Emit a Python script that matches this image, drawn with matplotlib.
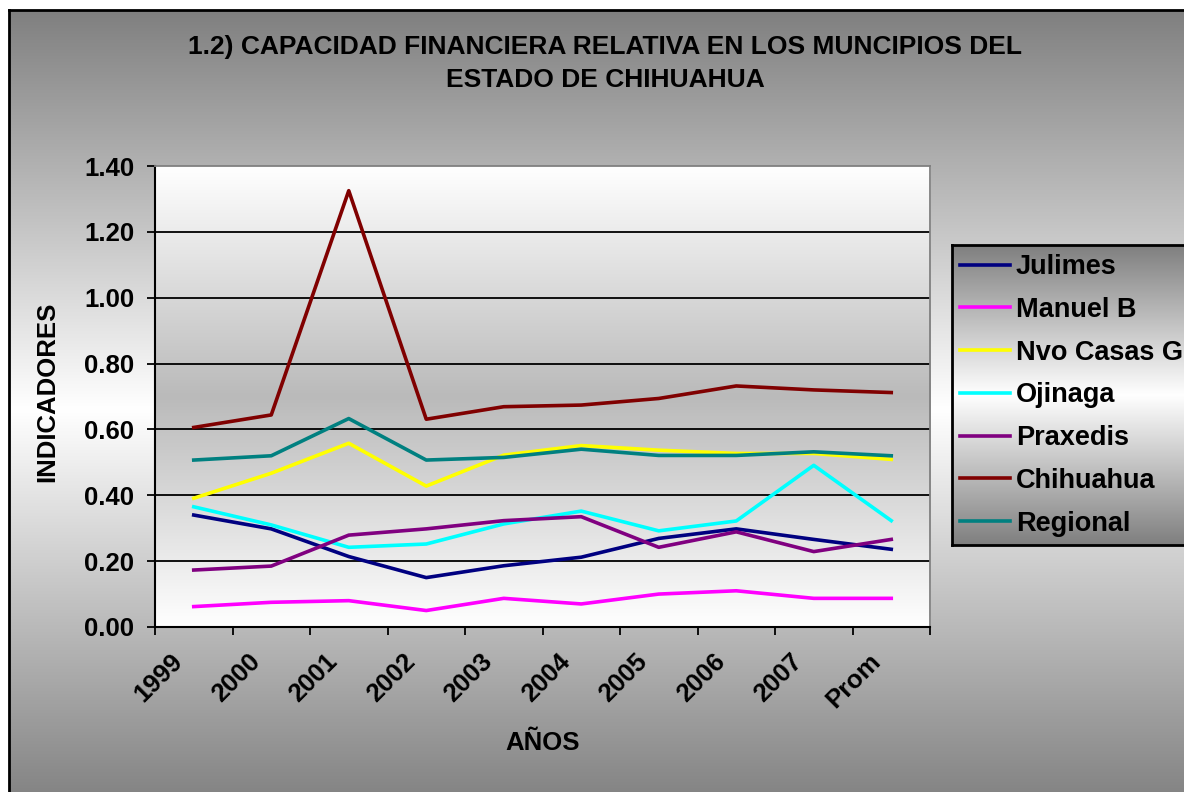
import numpy as np
import matplotlib
matplotlib.use("Agg")
import matplotlib.pyplot as plt
from matplotlib.colors import LinearSegmentedColormap

plt.rcParams['font.family'] = ['Liberation Sans', 'DejaVu Sans']
plt.rcParams['font.weight'] = 'bold'

# data
years = ["1999", "2000", "2001", "2002", "2003", "2004", "2005", "2006", "2007", "Prom"]
julimes = [0.340, 0.298, 0.214, 0.150, 0.186, 0.212, 0.269, 0.298, 0.266, 0.236]
manuel_b = [0.062, 0.075, 0.080, 0.050, 0.087, 0.070, 0.100, 0.110, 0.087, 0.087]
nvo_casas = [0.391, 0.467, 0.558, 0.428, 0.522, 0.551, 0.537, 0.527, 0.527, 0.509]
ojinaga = [0.365, 0.310, 0.242, 0.252, 0.313, 0.352, 0.292, 0.322, 0.491, 0.323]
praxedis = [0.173, 0.185, 0.279, 0.298, 0.323, 0.335, 0.242, 0.289, 0.229, 0.266]
chihuahua = [0.606, 0.644, 1.325, 0.631, 0.669, 0.674, 0.694, 0.732, 0.720, 0.712]
regional = [0.507, 0.520, 0.633, 0.507, 0.515, 0.540, 0.521, 0.521, 0.532, 0.520]

series = [
    ("Julimes", julimes, "#000080"),
    ("Manuel B", manuel_b, "#FF00FF"),
    ("Nvo Casas G", nvo_casas, "#FFFF00"),
    ("Ojinaga", ojinaga, "#00FFFF"),
    ("Praxedis", praxedis, "#800080"),
    ("Chihuahua", chihuahua, "#800000"),
    ("Regional", regional, "#008080"),
]

W, H = 1184, 792
fig = plt.figure(figsize=(W / 100, H / 100), dpi=100, facecolor="white")


def px(x0, y0, x1, y1):
    # pixel box (top-left origin) -> figure rect
    return [x0 / W, 1 - y1 / H, (x1 - x0) / W, (y1 - y0) / H]


gwg = LinearSegmentedColormap.from_list("gwg", ["#7f7f7f", "#ffffff", "#7f7f7f"])
wgw = LinearSegmentedColormap.from_list("wgw", ["#ffffff", "#bababa", "#ffffff"])
grad = np.linspace(0, 1, 256).reshape(-1, 1)

# chart area background
bg = fig.add_axes(px(9, 10, 1210, 810), zorder=0)
bg.imshow(grad, cmap=gwg, aspect="auto", extent=[0, 1, 0, 1])
bg.set_xticks([])
bg.set_yticks([])
for s in bg.spines.values():
    s.set_linewidth(2)
    s.set_color("black")

# plot area background
plot_box = px(155, 166, 930, 627)
pbg = fig.add_axes(plot_box, zorder=1)
pbg.imshow(grad, cmap=wgw, aspect="auto", extent=[0, 1, 0, 1])
pbg.axis("off")

ax = fig.add_axes(plot_box, zorder=2)
ax.patch.set_alpha(0)

x = np.arange(len(years)) + 0.5
for name, vals, col in series:
    ax.plot(x, vals, color=col, lw=2.6, label=name)

ax.set_xlim(0, len(years))
ax.set_ylim(0, 1.4)
yt = np.round(np.arange(0, 1.41, 0.2), 2)
ax.set_yticks(yt, ["%.2f" % v for v in yt])
ax.hlines(yt[1:-1], 0, len(years), color="black", lw=1.3, zorder=1)

# boundary tick marks, labels slightly left of each category centre
ax.set_xticks(np.arange(len(years) + 1), minor=True)
ax.set_xticks(x - 0.3, years)
ax.tick_params(axis="x", which="major", length=0, pad=16, labelsize=18.5)
ax.tick_params(axis="x", which="minor", length=6, width=1.3, direction="out")
ax.tick_params(axis="y", length=6, width=1.3, direction="out", pad=9, labelsize=18.5)
for lab in ax.get_xticklabels():
    lab.set_rotation(45)
    lab.set_ha("right")
    lab.set_va("top")
    lab.set_rotation_mode("anchor")

for side in ("left", "bottom"):
    ax.spines[side].set_color("black")
    ax.spines[side].set_linewidth(1.5)
for side in ("top", "right"):
    ax.spines[side].set_color("#808080")
    ax.spines[side].set_linewidth(1.3)

# legend box with its own gradient
lax = fig.add_axes(px(952, 245, 1210, 545), zorder=3)
lax.imshow(grad, cmap=gwg, aspect="auto", extent=[0, 1, 0, 1])
lax.set_xticks([])
lax.set_yticks([])
for s in lax.spines.values():
    s.set_linewidth(2)
    s.set_color("black")
handles, labels = ax.get_legend_handles_labels()
lax.legend(handles, labels, loc="upper left", bbox_to_anchor=(960 / W, 1 - 254 / H),
           bbox_transform=fig.transFigure, frameon=False, fontsize=19.5,
           handlelength=1.85, handletextpad=0.22, labelspacing=0.62, borderpad=0,
           borderaxespad=0)

fig.text(605 / W, 1 - 47 / H, "1.2) CAPACIDAD FINANCIERA RELATIVA EN LOS MUNCIPIOS DEL",
         ha="center", va="center", fontsize=19, weight="bold")
fig.text(605 / W, 1 - 80 / H, "ESTADO DE CHIHUAHUA",
         ha="center", va="center", fontsize=19, weight="bold")
fig.text(47 / W, 1 - 392 / H, "INDICADORES", rotation=90,
         ha="center", va="center", fontsize=18.5, weight="bold")
fig.text(543 / W, 1 - 743 / H, "AÑOS", ha="center", va="center", fontsize=18.5, weight="bold")

fig.savefig("out.png", dpi=100)
